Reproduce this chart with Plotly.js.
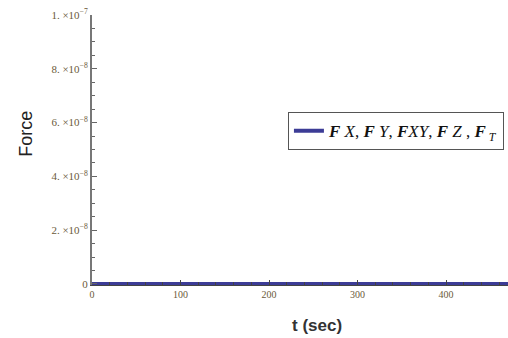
<!DOCTYPE html>
<html><head><meta charset="utf-8">
<script src="https://cdn.plot.ly/plotly-3.0.1.min.js"></script>
<style>html,body{margin:0;padding:0;background:#fff;}#chart{width:508px;height:338px;}</style>
</head><body><div id="chart"></div>
<script>
const timeSec = [0, 50, 100, 150, 200, 250, 300, 350, 400, 450, 470];
const forceAll = [0, 0, 0, 0, 0, 0, 0, 0, 0, 0, 0];
const seriesName = '<b><i>F</i></b><i> X</i>, <b><i>F</i></b><i> Y</i>, <b><i>F</i></b><i>XY</i>, <b><i>F</i></b><i> Z</i> , <b><i>F</i></b><i><sub> T</sub></i>';
const yTickVals = [0, 2e-8, 4e-8, 6e-8, 8e-8, 1e-7];
const yTickText = ['0', '2. ×10<sup>−8</sup>', '4. ×10<sup>−8</sup>', '6. ×10<sup>−8</sup>', '8. ×10<sup>−8</sup>', '1. ×10<sup>−7</sup>'];
const xTickVals = [0, 100, 200, 300, 400];
const xTickText = ['0', '100', '200', '300', '400'];
const xTitle = 't (sec)';
const yTitle = 'Force';

const trace = {
  x: timeSec, y: forceAll, type: 'scatter', mode: 'lines', name: seriesName,
  line: {color: '#3c3c96', width: 4}, showlegend: true
};
const titleFont = {family: 'Liberation Sans, Arial, sans-serif', size: 18, color: '#222'};
const layout = {
  width: 508, height: 338,
  margin: {l: 92, r: 0, t: 15, b: 53},
  paper_bgcolor: '#fff', plot_bgcolor: '#fff',
  showlegend: true,
  legend: {x: 0.471, y: 0.64, xanchor: 'left', yanchor: 'top', bgcolor: '#fff',
    bordercolor: '#555', borderwidth: 1, itemwidth: 30,
    font: {family: 'Liberation Serif, serif', size: 17, color: '#111'}},
  xaxis: {range: [0, 470], showgrid: false, zeroline: false, showline: true, linecolor: '#444', linewidth: 1,
    tickvals: xTickVals, ticktext: xTickText, ticks: 'inside', ticklen: 5, tickcolor: '#444',
    minor: {dtick: 20, ticks: 'inside', ticklen: 3, tickcolor: '#444'},
    tickfont: {family: 'Liberation Serif, serif', size: 10, color: '#6b5a3a'}},
  yaxis: {range: [-0.04e-8, 1.0e-7], showgrid: false, zeroline: false, showline: true, linecolor: '#777', linewidth: 2,
    tickvals: yTickVals, ticktext: yTickText, ticks: 'inside', ticklen: 5, tickcolor: '#666',
    minor: {dtick: 0.5e-8, ticks: 'inside', ticklen: 3, tickcolor: '#666'},
    tickfont: {family: 'Liberation Serif, serif', size: 11, color: '#6b5a3a'}},
  annotations: [
    {text: '<b>' + xTitle + '</b>', xref: 'paper', yref: 'paper', x: 0.54, y: -0.15, xanchor: 'center', yanchor: 'middle',
      showarrow: false, font: {family: 'Liberation Sans, Arial, sans-serif', size: 17, color: '#333'}},
    {text: yTitle, xref: 'paper', yref: 'paper', x: -0.159, y: 0.56, xanchor: 'center', yanchor: 'middle',
      textangle: -90, showarrow: false, font: titleFont}
  ]
};
Plotly.newPlot('chart', [trace], layout, {displayModeBar: false, staticPlot: true});
</script></body></html>
